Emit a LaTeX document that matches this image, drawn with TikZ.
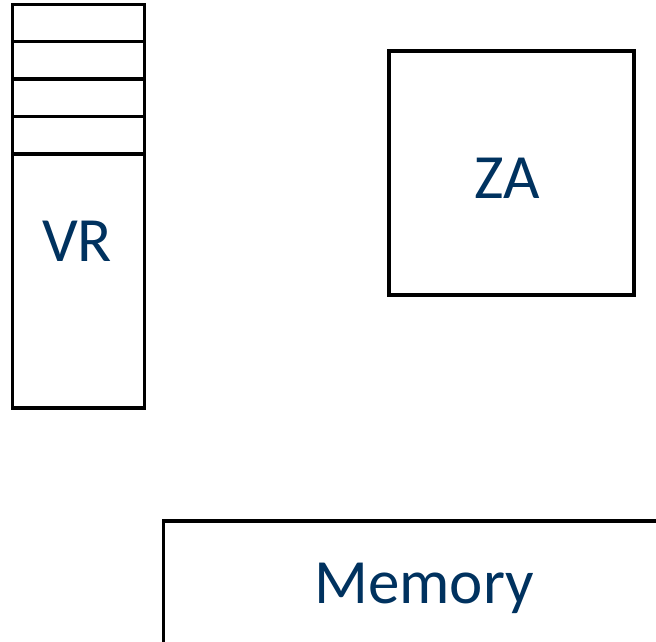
\documentclass[tikz,border=0pt]{standalone}
\usepackage{fontspec}
\setmainfont{Carlito}
\definecolor{labelblue}{HTML}{00325F}
\begin{document}
\begin{tikzpicture}[x=1pt,y=-1pt,
  unit/.style={draw=black,line width=3.2pt,inner sep=0pt,outer sep=0pt,fill=white},
  lbl/.style={text=labelblue,font=\fontsize{63}{63}\selectfont,anchor=base,inner sep=0pt}]
  \clip (0,0) rectangle (656,642);
  \useasboundingbox (0,0) rectangle (656,642);
  % register file: four slots above a tall body
  \node[unit,minimum width=132pt,minimum height=403.5pt,anchor=north west] (vr) at (12.5,4.5) {};
  \foreach \y in {41.5,79,116.5,154}
    \draw[line width=3.2pt] (vr.west |- 0,\y) -- (vr.east |- 0,\y);
  \node[lbl] (vrlabel) at (77,261) {VR};
  % array storage
  \node[unit,minimum width=245pt,minimum height=244pt,anchor=north west] (za) at (389,51) {};
  \node[lbl] (zalabel) at (507.5,198) {ZA};
  % main memory, running off the lower right
  \node[unit,minimum width=560pt,minimum height=200pt,anchor=north west] (mem) at (163.5,521) {};
  \node[lbl] (memlabel) at (424,603) {Memory};
\end{tikzpicture}
\end{document}
